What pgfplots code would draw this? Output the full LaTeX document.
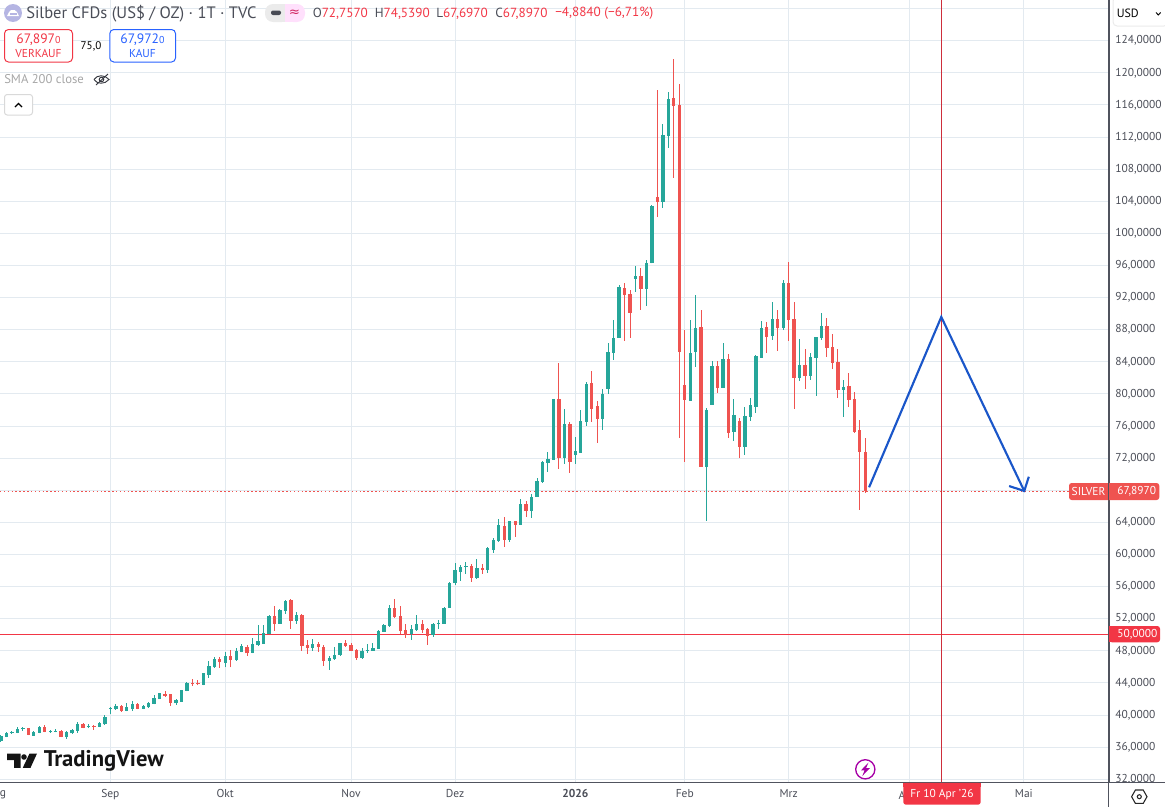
\documentclass[border=0pt]{standalone}
\usepackage{fontspec}
\setmainfont{PT Sans}
\newfontfamily\dv{DejaVu Sans}
\usepackage{pgfplots}
\usepackage{pgfplotstable}
\pgfplotsset{compat=1.18}
\newcommand{\fs}[1]{\fontsize{#1}{#1}\selectfont}
\definecolor{upc}{HTML}{26A69A}
\definecolor{dnc}{HTML}{EF5350}
\definecolor{redl}{HTML}{F23645}
\definecolor{gridc}{HTML}{E3EAF0}
\definecolor{axc}{HTML}{50535E}
\definecolor{txt}{HTML}{4A4D57}
\definecolor{arrowc}{HTML}{1A56C9}
\definecolor{kauf}{HTML}{2962FF}
\pgfplotstableread{
i o h l c
-20 36.8 37.57 36.65 37.4
-19 37.27 37.86 37.23 37.77
-18 37.81 38.06 37.69 37.94
-17 37.77 38.48 37.73 38.27
-16 38.31 38.52 38.06 38.4
-14 37.44 37.98 37.4 37.9
-13 37.77 38.64 37.73 38.56
-11 37.94 38.15 37.77 38.02
-10 37.94 38.23 37.86 38.02
-8 37.27 37.98 37.07 37.9
-7 37.73 38.27 37.65 38.15
-6 38.02 39.14 37.81 38.85
-4 38.56 38.89 38.35 38.69
-2 38.52 39.1 38.48 39.02
-1 38.85 39.97 38.77 39.72
0 40.8 41.0 40.1 40.93
1 40.72 41.43 40.68 41.18
3 40.51 41.47 40.47 41.0
4 40.8 41.72 40.51 41.39
6 40.76 41.22 40.72 41.14
7 40.97 41.59 40.93 41.51
8 41.39 42.51 41.34 42.17
9 42.0 42.8 42.0 42.71
12 41.47 41.97 41.26 41.84
13 41.68 43.13 41.63 43.13
14 43.0 44.08 42.96 43.96
17 43.75 45.25 43.71 45.21
18 45.0 46.78 44.62 46.08
19 45.95 47.2 45.91 46.99
21 46.49 47.86 45.95 47.37
23 46.83 48.36 46.78 47.99
24 47.86 48.82 47.82 48.61
26 47.74 49.57 47.7 48.86
27 48.74 51.23 48.61 49.23
28 48.9 51.23 48.86 50.19
29 50.06 52.47 50.06 52.35
31 51.35 53.22 51.35 53.1
32 52.97 54.34 52.6 54.22
34 51.73 52.85 51.35 52.47
37 48.36 49.48 47.99 48.86
40 46.74 47.37 45.62 47.12
41 46.95 48.49 46.87 47.49
42 47.49 48.99 47.37 48.99
46 47.12 48.36 46.99 47.99
47 47.99 48.86 47.74 48.11
48 47.99 48.99 47.99 48.36
49 48.24 50.6 48.24 50.48
50 50.36 51.35 50.36 51.23
51 51.1 53.72 50.98 53.35
55 50.1 51.23 49.36 50.73
56 50.6 52.47 50.48 51.35
59 49.98 51.48 49.73 51.35
60 51.35 51.85 50.73 51.48
61 51.39 53.47 51.35 53.3
62 53.39 56.54 53.35 56.42
63 56.5 58.9 56.21 58.08
64 57.83 58.7 56.71 58.41
65 58.45 59.08 57.58 58.58
67 57.08 59.45 56.96 58.33
69 58.08 60.95 57.7 60.82
70 60.57 62.07 60.2 61.82
71 61.69 64.43 61.57 63.69
73 61.82 64.18 61.57 64.18
75 63.69 66.93 63.69 66.3
77 65.43 67.55 64.56 67.17
78 67.17 69.54 67.17 69.17
79 69.04 71.66 68.92 71.53
80 71.41 72.78 70.29 71.91
81 71.78 79.38 71.78 79.38
83 72.03 78.14 71.29 76.27
85 72.41 74.65 71.29 72.9
86 72.66 78.01 72.66 76.64
87 76.52 81.5 76.02 81.25
90 76.89 80.63 75.52 80.0
91 80.63 86.36 80.0 85.24
92 85.11 89.23 84.24 86.98
93 86.98 93.59 86.98 93.34
96 94.33 95.95 92.71 94.71
98 93.09 96.7 90.97 96.33
99 96.29 103.5 96.25 103.43
101 103.93 113.64 103.18 112.27
102 112.15 117.63 110.65 116.76
106 79.13 89.23 79.13 85.11
107 85.24 92.34 83.37 88.23
109 70.91 78.26 64.23 78.01
110 78.64 84.12 78.64 83.5
112 80.75 86.36 80.75 84.37
114 75.27 79.38 74.15 77.39
116 73.4 78.39 72.41 77.27
117 77.14 79.51 76.64 78.64
118 78.39 84.87 77.64 84.74
119 84.49 89.1 84.49 88.23
121 87.23 91.47 86.73 89.35
123 88.23 94.2 87.98 93.84
126 82 86.86 81.63 83.62
128 82.25 85.11 81.75 84.62
129 84.49 87.11 79.76 87.11
130 86.98 90.1 86.73 88.48
134 80.5 81.75 77.14 80.88
}\upbars
\pgfplotstableread{
i o h l c
-15 38.4 38.44 37.48 37.52
-12 38.52 38.77 37.86 37.9
-9 38.02 38.1 37.23 37.27
-5 38.89 38.98 38.35 38.4
-3 38.69 38.77 38.15 38.6
2 41.14 41.22 40.39 40.51
5 41.43 41.51 40.72 40.76
10 42.59 42.96 42.3 42.38
11 42.59 42.63 41.14 41.51
15 44.0 44.5 43.63 43.84
16 44.0 44.38 43.71 43.92
20 46.99 47.24 45.87 46.58
22 47.37 48.11 45.95 46.91
25 48.53 48.74 47.37 47.7
30 52.35 53.6 50.48 51.35
33 54.34 54.47 50.73 51.73
35 52.47 52.6 47.99 48.61
36 48.74 49.36 47.61 48.36
38 48.86 49.11 47.86 48.49
39 48.49 48.74 46.12 46.74
43 48.99 49.36 48.49 48.61
44 48.74 48.99 47.99 47.99
45 48.11 48.24 46.87 47.12
52 53.35 54.47 52.1 52.22
53 52.35 53.6 50.1 50.48
54 50.6 51.35 49.61 49.98
57 51.35 51.85 50.23 50.6
58 50.73 50.85 48.74 49.86
66 58.58 58.83 56.58 57.08
68 58.33 58.83 57.58 58.08
72 63.56 64.68 60.95 61.82
74 64.18 64.18 62.19 63.69
76 66.3 66.68 64.68 65.43
82 79.38 83.87 70.66 72.03
84 76.27 76.52 70.16 71.53
88 81.38 82.87 76.52 78.14
89 78.51 79.13 73.9 76.89
94 93.21 93.84 86.61 92.34
95 92.46 92.96 86.98 90.1
97 94.71 95.7 90.47 93.09
100 104.55 117.88 102.06 103.93
103 116.88 121.74 106.92 115.89
104 116.01 118.63 74.52 85.24
105 81.13 87.98 71.53 79.26
108 88.35 90.47 70.91 70.91
111 83.5 84.12 80.13 80.75
113 84.37 84.99 74.52 75.15
115 76.64 77.02 72.03 73.4
120 88.35 88.98 85.11 87.11
122 89.35 90.47 85.36 88.23
124 93.84 96.4 86.61 89.23
125 89.35 91.47 78.14 82.0
127 83.62 85.61 80.63 82.25
131 88.48 89.48 84.62 85.74
132 85.86 87.48 83.12 83.87
133 83.99 85.61 79.51 80.5
135 81.0 82.62 78.39 79.26
136 79.38 80.25 75.15 75.27
137 75.52 76.77 65.55 72.78
138 72.757 74.539 67.697 67.897
}\dnbars
\begin{document}
\begin{tikzpicture}[x=0.75pt,y=-0.75pt]
\path[use as bounding box] (0,0) rectangle (1165,807);
\begin{axis}[
  at={(0,0)}, anchor=north west,
  scale only axis, width=831.75pt, height=586.7pt,
  xmin=-20.18, xmax=182.56, ymin=31.63, ymax=129.07,
  axis x line*=bottom, axis y line*=right,
  axis line style={-, draw=axc, line width=0.75pt},
  tick style={draw=none}, major tick length=0pt,
  grid=major, grid style={gridc, line width=0.75pt},
  xtick={0,21,44,63,85,105,124,146,167},
  xticklabels={Sep,Okt,Nov,Dez,\textbf{2026},Feb,Mrz,{},Mai},
  ytick={32,36,...,124},
  extra y ticks={128}, extra y tick labels={},
  extra y tick style={grid=major, tick style={draw=none}},
  scaled y ticks=false,
  x tick label style={font=\fs{8.6}, text=txt, yshift=-4.5pt, inner sep=0pt, text height=7pt, text depth=1pt},
  y tick label style={font=\fs{8.6}, text=txt, anchor=west, xshift=4.5pt, inner sep=0pt,
     /pgf/number format/.cd, fixed, fixed zerofill, precision=4, use comma, 1000 sep={}, assume math mode=true},
  candle/.style={draw=none, no marks, forget plot, error bars/.cd, y dir=plus, y explicit, error mark=none},
]
\addplot[redl, line width=0.75pt, forget plot] coordinates {(-20.18,50) (182.56,50)};
\addplot[dnc, line width=0.9pt, dash pattern=on 1.1pt off 1.8pt, forget plot] coordinates {(-20.18,67.897) (182.56,67.897)};
\addplot[redl!85!black, line width=0.75pt, forget plot] coordinates {(152,31.63) (152,129.07)};
% wicks
\addplot[candle, error bar style={upc, line width=0.75pt}]
  table[x=i, y=l, y error plus expr=\thisrow{h}-\thisrow{l}] {\upbars};
\addplot[candle, error bar style={dnc, line width=0.75pt}]
  table[x=i, y=l, y error plus expr=\thisrow{h}-\thisrow{l}] {\dnbars};
% bodies
\addplot[candle, error bar style={upc, line width=2.5pt}]
  table[x=i, y=o, y error plus expr=\thisrow{c}-\thisrow{o}] {\upbars};
\addplot[candle, error bar style={dnc, line width=2.5pt}]
  table[x=i, y=c, y error plus expr=\thisrow{o}-\thisrow{c}] {\dnbars};
% drawn arrow
\addplot[arrowc, line width=1.6pt, line join=miter, forget plot] coordinates {(138.7,68.37) (151.9,89.59) (167.07,67.91)};
\addplot[arrowc, line width=1.6pt, forget plot] coordinates {(164.3,68.53) (167.07,67.91) (167.9,69.69)};
\end{axis}
% price scale cover under the axis line
\fill[white] (1109.5,782.9) rectangle (1165,807);
\draw[axc, line width=0.75pt] (0,782.3) -- (1165,782.3);
\draw[axc, line width=0.75pt] (1108.8,0) -- (1108.8,807);
% month names cut at the left edge and behind the date label
\node[anchor=west, inner sep=0pt, text=txt, font=\fs{8.6}] at (-0.5,795) {g};
\node[anchor=east, inner sep=0pt, text=txt, font=\fs{8.6}] at (905.5,795.6) {A};
% header
\fill[gray!55!blue!40] (13,13) circle (9);
\fill[white] (7,16) -- (19,16) -- (17,12) -- (14.5,10) -- (11,10) -- (9,12) -- cycle;
\fill[gray!55!blue!40] (9.5,13.4) rectangle (16.5,14.6);
\node[anchor=west, inner sep=0pt, text=txt, font=\fs{12.4}] at (26,13.5) {Silber CFDs (US\$ / OZ) · 1T · TVC};
\fill[black!8, rounded corners=6pt] (265,4) rectangle (290,22);
\fill[red!10!magenta!12, rounded corners=6pt] (285,4) rectangle (305,22);
\fill[black!8] (280,4) rectangle (285,22);
\fill[red!10!magenta!12] (285,4) rectangle (292,22);
\fill[axc!90!black, rounded corners=1.5pt] (271,10.5) rectangle (281,15);
\node[inner sep=0pt, text=magenta!60!red!85!black, font=\dv\fs{10}] at (294.5,13) {≈};
\node[anchor=west, inner sep=0pt, font=\fs{9.9}, text=redl] at (312.5,13.5) {\textcolor{txt}{O}72,7570};
\node[anchor=west, inner sep=0pt, font=\fs{9.9}, text=redl] at (374.5,13.5) {\textcolor{txt}{H}74,5390};
\node[anchor=west, inner sep=0pt, font=\fs{9.9}, text=redl] at (436,13.5) {\textcolor{txt}{L}67,6970};
\node[anchor=west, inner sep=0pt, font=\fs{9.9}, text=redl] at (495,13.5) {\textcolor{txt}{C}67,8970};
\node[anchor=west, inner sep=0pt, font=\fs{9.9}, text=redl] at (555,13.5) {−4,8840 (−6,71\%)};
% sell / buy boxes
\draw[redl, fill=white, line width=0.75pt, rounded corners=3pt] (4.5,29.5) rectangle (72.5,62);
\node[inner sep=0pt, text=redl, font=\fs{10.2}] at (38.5,39.5) {67,897{\fs{7.5}0}};
\node[inner sep=0pt, text=redl, font=\fs{8.6}] at (38.5,53) {VERKAUF};
\node[inner sep=0pt, text=black, font=\fs{8.3}] at (91,46) {75,0};
\draw[kauf, fill=white, line width=0.75pt, rounded corners=3pt] (109.8,29.5) rectangle (175.5,62);
\node[inner sep=0pt, text=kauf, font=\fs{10.2}] at (142.5,39.5) {67,972{\fs{7.5}0}};
\node[inner sep=0pt, text=kauf, font=\fs{8.6}] at (142.5,53) {KAUF};
\node[anchor=west, inner sep=0pt, text=black!35, font=\fs{9.5}] at (4,79.5) {SMA 200 close};
\draw[axc!70!black, line width=0.7pt] (94,79.5) .. controls (97,74.5) and (105,74.5) .. (109,79.5) .. controls (105,84.5) and (97,84.5) .. (94,79.5);
\draw[axc!70!black, line width=0.7pt] (101.5,79.5) circle (2.3);
\draw[axc!70!black, line width=0.7pt] (96,85) -- (108,74);
\draw[black!15, fill=white, line width=0.75pt, rounded corners=2pt] (4.5,94.5) rectangle (32.5,115);
\draw[black, line width=0.9pt] (15,107) -- (18.5,103.5) -- (22,107);
% USD button
\draw[black!8, fill=white, line width=0.75pt, rounded corners=3pt] (1113,-3) rectangle (1168,26);
\node[anchor=west, inner sep=0pt, text=black, font=\fs{9}] at (1116.5,13.5) {USD};
\draw[black, line width=0.7pt] (1156,12.5) -- (1158.3,15) -- (1160.6,12.5);
% last price + level labels
\fill[dnc, rounded corners=2pt] (1069,483) rectangle (1112,500);
\fill[dnc, rounded corners=2pt] (1106,483) rectangle (1159.3,500);
\draw[axc, line width=0.75pt] (1108.8,483) -- (1108.8,500);
\node[inner sep=0pt, text=white, font=\fs{8.6}] at (1088.5,491.5) {SILVER};
\node[anchor=west, inner sep=0pt, text=white, font=\fs{8.6}] at (1117,491.5) {67,8970};
\fill[redl, rounded corners=2pt] (1109.3,626) rectangle (1160,642.3);
\fill[redl] (1109.3,626) rectangle (1113,642.3);
\node[anchor=west, inner sep=0pt, text=white, font=\fs{8.6}] at (1117,634.5) {50,0000};
% date label
\fill[redl, rounded corners=2pt] (903.3,782.8) rectangle (980.7,804.7);
\fill[redl] (903.3,782.8) rectangle (980.7,787);
\node[inner sep=0pt, text=white, font=\fs{8.6}] at (942,795) {Fr 10 Apr '26};
% lightning
\draw[violet!70!magenta, line width=1pt] (865.3,769.3) circle (9.6);
\fill[violet!70!magenta] (868.5,762.5) -- (861,770.3) -- (864.6,770.3) -- (862.3,776) -- (869.8,768.2) -- (866,768.2) -- cycle;
% settings hexagon
\draw[black!85, line width=0.8pt] (1131.6,796.7) -- (1135.4,790) -- (1143.2,790) -- (1147,796.7) -- (1143.2,803.4) -- (1135.4,803.4) -- cycle;
\draw[black!85, line width=0.8pt] (1139.3,796.7) circle (2);
% TradingView logo
\fill[black!92] (7,753.5) -- (20.5,753.5) -- (20.5,767.8) -- (14,767.8) -- (14,760) -- (7,760) -- cycle;
\fill[black!92] (24,757) circle (2.8);
\fill[black!92] (29.5,753.5) -- (37,753.5) -- (30.5,767.8) -- (22.8,767.8) -- cycle;
\node[anchor=west, inner sep=0pt, text=black!92, font=\bfseries\fs{17}] at (43.5,761) {TradingView};
\end{tikzpicture}
\end{document}
